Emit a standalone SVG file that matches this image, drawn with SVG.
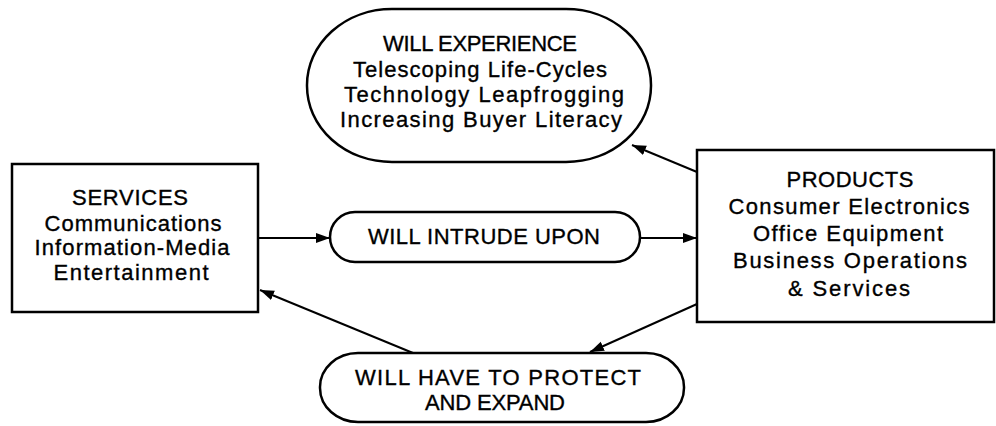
<svg xmlns="http://www.w3.org/2000/svg" width="996" height="426" viewBox="0 0 996 426">
<style>
.box{fill:#fff;stroke:#000;stroke-width:2.5}
.t{font-family:"Liberation Sans",Arial,sans-serif;font-size:22px;fill:#000;stroke:#000;stroke-width:0.35;text-anchor:middle}
.c{stroke:#000;stroke-width:2;fill:none;marker-end:url(#ah)}
</style>
<defs>
<marker id="ah" markerUnits="userSpaceOnUse" markerWidth="15" markerHeight="12" refX="14" refY="6" orient="auto">
<path d="M0,1 L14,6 L0,11 Z" fill="#000"/>
</marker>
</defs>
<rect width="996" height="426" fill="#fff"/>
<g id="connectors">
<line class="c" x1="258" y1="238" x2="330" y2="238"/>
<line class="c" x1="640" y1="238" x2="697" y2="238"/>
<line class="c" x1="697" y1="172" x2="632" y2="145"/>
<line class="c" x1="697" y1="304" x2="590" y2="352"/>
<line class="c" x1="413" y1="353" x2="260" y2="290"/>
</g>
<g id="experience">
<rect class="box" x="307" y="9" width="344" height="153" rx="85" ry="76"/>
<text class="t" x="480" y="51" textLength="194" lengthAdjust="spacing">WILL EXPERIENCE</text>
<text class="t" x="480" y="77" textLength="254" lengthAdjust="spacing">Telescoping Life-Cycles</text>
<text class="t" x="484" y="102" textLength="280" lengthAdjust="spacing">Technology Leapfrogging</text>
<text class="t" x="481" y="127" textLength="282" lengthAdjust="spacing">Increasing Buyer Literacy</text>
</g>
<g id="services">
<rect class="box" x="12" y="164" width="246" height="148"/>
<text class="t" x="130" y="205" textLength="116" lengthAdjust="spacing">SERVICES</text>
<text class="t" x="133" y="231" textLength="177" lengthAdjust="spacing">Communications</text>
<text class="t" x="132" y="255" textLength="195" lengthAdjust="spacing">Information-Media</text>
<text class="t" x="131" y="280" textLength="155" lengthAdjust="spacing">Entertainment</text>
</g>
<g id="intrude">
<rect class="box" x="330" y="212" width="310" height="50" rx="25" ry="25"/>
<text class="t" x="484" y="244" textLength="232" lengthAdjust="spacing">WILL INTRUDE UPON</text>
</g>
<g id="products">
<rect class="box" x="697" y="150" width="297" height="172"/>
<text class="t" x="850" y="187" textLength="127" lengthAdjust="spacing">PRODUCTS</text>
<text class="t" x="849" y="214" textLength="241" lengthAdjust="spacing">Consumer Electronics</text>
<text class="t" x="848" y="241" textLength="190" lengthAdjust="spacing">Office Equipment</text>
<text class="t" x="850" y="268" textLength="234" lengthAdjust="spacing">Business Operations</text>
<text class="t" x="849" y="296" textLength="122" lengthAdjust="spacing">&amp; Services</text>
</g>
<g id="protect">
<rect class="box" x="320" y="353" width="364" height="69" rx="38" ry="34"/>
<text class="t" x="498" y="385" textLength="286" lengthAdjust="spacing">WILL HAVE TO PROTECT</text>
<text class="t" x="495" y="410" textLength="140" lengthAdjust="spacing">AND EXPAND</text>
</g>
</svg>
